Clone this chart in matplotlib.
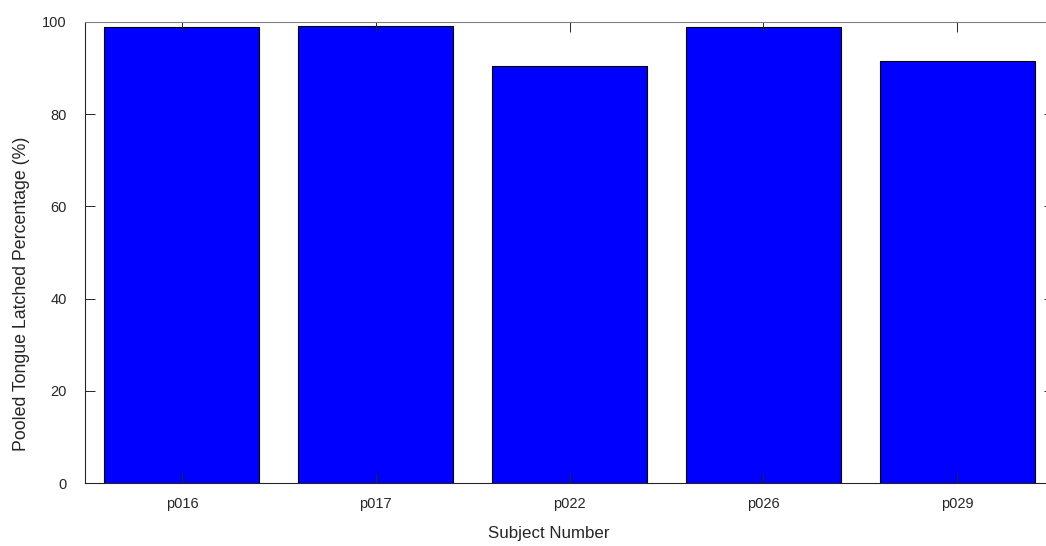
import matplotlib
matplotlib.use("Agg")
import matplotlib.pyplot as plt
import numpy as np

plt.rcParams['font.family'] = ['Liberation Sans', 'DejaVu Sans']

subjects = ['p016', 'p017', 'p022', 'p026', 'p029']
latched_pct = [98.9, 99.0, 90.5, 98.9, 91.5]
yticks = [0, 20, 40, 60, 80, 100]

W, H = 1046, 546
fig = plt.figure(figsize=(W / 100, H / 100), dpi=100)
# axes box: left 85px, top 21.7px, bottom 483.3px, right ~1054px (clipped by figure)
left, right, top, bottom = 85, 1054, 21.7, 483.3
ax = fig.add_axes([left / W, (H - bottom) / H, (right - left) / W, (bottom - top) / H])

x = np.arange(1, len(subjects) + 1)
ax.bar(x, latched_pct, width=0.8, color='#0000ff', edgecolor='black', linewidth=0.8)

ax.set_xlim(0.5, len(subjects) + 0.5)
ax.set_ylim(0, 100)
ax.set_xticks(x, subjects)
ax.set_yticks(yticks)

axcol = '#262626'
for s in ax.spines.values():
    s.set_color(axcol)
    s.set_linewidth(0.8)
ax.spines['top'].set_color('#808080')
ax.tick_params(axis='both', direction='in', length=7, width=0.7, color=axcol,
               labelsize=10.5, labelcolor='#262626')
ax.tick_params(axis='y', left=True, right=True, pad=13)
ax.tick_params(axis='x', bottom=True, top=True, pad=10)

ax.set_xlabel('Subject Number', fontsize=12.2, color='#262626', labelpad=10)
ax.set_ylabel('Pooled Tongue Latched Percentage (%)', fontsize=12.8, color='#262626', labelpad=9)
ax.xaxis.set_label_coords(0.479, -0.093)
ax.yaxis.label.set_y(0.41)

fig.savefig('out.png', dpi=100)
